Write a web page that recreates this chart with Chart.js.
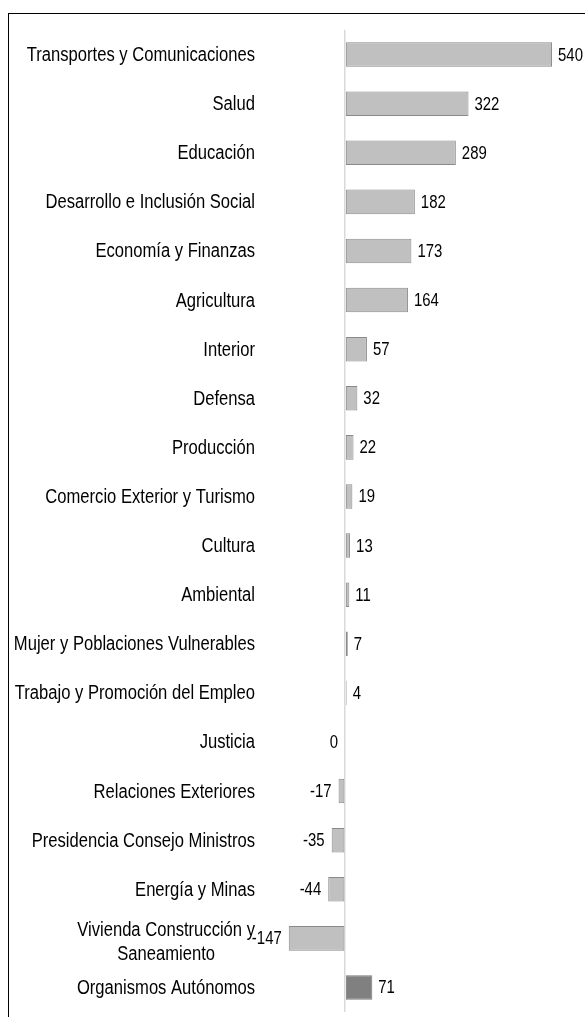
<!DOCTYPE html>
<html>
<head>
<meta charset="utf-8">
<script src="https://cdn.jsdelivr.net/npm/chart.js@4"></script>
<style>
  html, body { margin: 0; padding: 0; background: #fff; }
  #wrap { position: relative; width: 585px; height: 1017px; overflow: hidden; }
  #frame { position: absolute; left: 8px; top: 13px; width: 590px; height: 1020px; border: 1px solid #000; box-sizing: border-box; }
  canvas { position: absolute; left: 0; top: 0; }
</style>
</head>
<body>
<div id="wrap">
  <div id="frame"></div>
  <canvas id="chart" width="585" height="1017"></canvas>
</div>
<script>
// sectores (millones de soles)
const sectores = [
    'Transportes y Comunicaciones',
    'Salud',
    'Educación',
    'Desarrollo e Inclusión Social',
    'Economía y Finanzas',
    'Agricultura',
    'Interior',
    'Defensa',
    'Producción',
    'Comercio Exterior y Turismo',
    'Cultura',
    'Ambiental',
    'Mujer y Poblaciones Vulnerables',
    'Trabajo y Promoción del Empleo',
    'Justicia',
    'Relaciones Exteriores',
    'Presidencia Consejo Ministros',
    'Energía y Minas',
    ['Vivienda Construcción y', 'Saneamiento'],
    'Organismos Autónomos',
];
const valores = [540, 322, 289, 182, 173, 164, 57, 32, 22, 19, 13, 11, 7, 4, 0, -17, -35, -44, -147, 71];
const destacado = 'Organismos Autónomos';

const FONT = "'Liberation Sans', Arial, sans-serif";
const NARROW = 0.83; // the original uses a condensed face, squeeze Arial horizontally

function narrowText(ctx, text, x, y, align) {
    ctx.save();
    ctx.translate(x, y);
    ctx.scale(NARROW, 1);
    ctx.textAlign = align;
    ctx.fillText(text, 0, 0);
    ctx.restore();
}

// category labels + value labels, positioned from the chart's own scales
const textLabels = {
    id: 'textLabels',
    afterDatasetsDraw(chart) {
        const ctx = chart.ctx;
        const yScale = chart.scales.y;
        const meta = chart.getDatasetMeta(0);
        const right = yScale.right - 10;
        ctx.save();
        ctx.fillStyle = '#000';
        ctx.textBaseline = 'middle';

        ctx.font = '20px ' + FONT;
        sectores.forEach((s, i) => {
            const y = yScale.getPixelForValue(i);
            if (Array.isArray(s)) {
                const w = Math.max(...s.map(l => ctx.measureText(l).width)) * NARROW;
                const cx = right - w / 2;
                s.forEach((line, j) => {
                    narrowText(ctx, line, cx, y + 4 + (j - (s.length - 1) / 2) * 24, 'center');
                });
            } else {
                narrowText(ctx, s, right, y + 1, 'right');
            }
        });

        ctx.font = '18px ' + FONT;
        meta.data.forEach((bar, i) => {
            const v = valores[i];
            if (v > 0) {
                narrowText(ctx, String(v), bar.x + 6, bar.y + 1, 'left');
            } else {
                narrowText(ctx, String(v), bar.x - 7, bar.y + 1, 'right');
            }
        });
        ctx.restore();
    }
};

const colores = sectores.map(s => s === destacado ? '#808080' : '#c0c0c0');
const bordes = sectores.map(s => s === destacado ? '#7a7a7a' : '#8a8a8a');

new Chart(document.getElementById('chart'), {
    type: 'bar',
    data: {
        labels: sectores,
        datasets: [{
            data: valores,
            backgroundColor: colores,
            borderColor: bordes,
            borderWidth: 1,
            borderSkipped: false,
            barPercentage: 0.5,
            categoryPercentage: 1,
        }],
    },
    options: {
        indexAxis: 'y',
        responsive: false,
        animation: false,
        layout: { padding: { top: 30, bottom: 5, left: 0, right: 0 } },
        plugins: {
            legend: { display: false },
            tooltip: { enabled: false },
        },
        scales: {
            x: {
                min: -209,
                max: 626,
                ticks: { display: false, stepSize: 100 },
                border: { display: false },
                grid: {
                    drawTicks: false,
                    lineWidth: 1.5,
                    color: ctx => ctx.tick && ctx.tick.value === 0 ? '#d9d9d9' : 'rgba(0,0,0,0)',
                },
                afterFit(scale) { scale.height = 0; },
            },
            y: {
                grid: { display: false, drawTicks: false },
                border: { display: false },
                ticks: { display: false },
                afterFit(scale) { scale.width = 265; },
            },
        },
    },
    plugins: [textLabels],
});
</script>
</body>
</html>
